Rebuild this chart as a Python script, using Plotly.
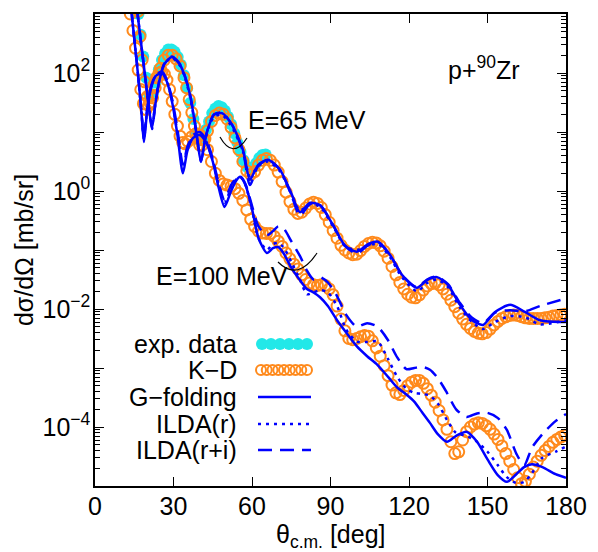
import numpy as np
import plotly.graph_objects as go

# ---------------- data (log10 of dsigma/dOmega [mb/sr]) ----------------
# experimental data, 65 MeV
theta_exp65 = [16.6, 17.4, 18.4, 19.6, 20.8, 22.0, 23.2, 24.4, 25.6, 26.8, 28.0, 29.2,
               30.4, 31.6, 32.8, 34.0, 35.2, 36.4, 37.6, 38.8, 40.0, 41.2, 42.4, 43.6,
               44.8, 46.0, 47.2, 48.4, 49.6, 50.8, 52.0, 53.2, 54.4, 55.6, 56.8, 58.0,
               59.2, 60.4, 61.6, 62.8, 64.0, 65.2]
exp65 = [3.00, 2.65, 2.28, 1.92, 1.62, 1.64, 1.84, 2.06, 2.22, 2.33, 2.40, 2.40,
         2.36, 2.27, 2.14, 1.96, 1.74, 1.49, 1.22, 0.98, 0.86, 0.90, 1.04, 1.18,
         1.32, 1.40, 1.44, 1.42, 1.36, 1.26, 1.13, 0.98, 0.82, 0.66, 0.52, 0.41,
         0.37, 0.40, 0.47, 0.56, 0.61, 0.62]

# K-D, 65 MeV
theta_kd65 = [16.5, 17.2, 18.0, 19.0, 20.0, 21.0, 22.0, 23.0, 24.0, 25.0,
              26.5, 28.0, 29.5, 31.0, 32.5, 34.0, 35.0, 36.0, 37.0, 38.0, 39.0, 40.0,
              41.0, 42.0, 43.0, 44.5, 46.0, 47.5, 49.0, 50.5, 52.0, 53.5, 55.0, 56.5,
              58.0, 59.5, 61.0, 62.5, 64.0, 65.5, 67.0, 68.5, 70.0, 71.5, 73.0, 74.5,
              76.0, 77.5, 79.0, 80.5, 82.0, 83.5, 85.0, 86.5, 88.0, 89.5, 91.0, 92.5,
              94.0, 95.5, 97.0, 98.5, 100.0, 101.5, 103.0, 104.5, 106.0, 107.5, 109.0,
              110.5, 112.0, 113.5, 115.0, 116.5, 118.0, 119.5, 121.0, 122.5, 124.0,
              125.5, 127.0, 128.5, 130.0, 131.5, 133.0, 134.5, 136.0, 137.5, 139.0,
              140.5, 142.0, 143.5, 145.0, 146.5, 148.0, 149.5, 151.0, 152.5, 154.0,
              155.5, 157.0, 158.5, 160.0, 161.5, 163.0, 164.5, 166.0, 167.5, 169.0,
              170.5, 172.0, 173.5, 175.0, 176.5, 178.0, 179.5]
kd65 = [3.05, 2.62, 2.22, 1.85, 1.60, 1.50, 1.58, 1.75, 1.93, 2.08,
        2.22, 2.30, 2.30, 2.24, 2.12, 1.92, 1.75, 1.55, 1.33, 1.10, 0.90, 0.78,
        0.78, 0.88, 1.02, 1.18, 1.28, 1.32, 1.30, 1.22, 1.08, 0.90, 0.70, 0.50,
        0.34, 0.28, 0.33, 0.44, 0.52, 0.55, 0.52, 0.44, 0.32, 0.16, -0.02, -0.18,
        -0.31, -0.38, -0.36, -0.29, -0.22, -0.19, -0.21, -0.28, -0.40, -0.53, -0.67, -0.80,
        -0.92, -1.00, -1.05, -1.08, -1.07, -1.01, -0.94, -0.89, -0.87, -0.88, -0.93,
        -1.02, -1.14, -1.28, -1.42, -1.55, -1.66, -1.75, -1.80, -1.81, -1.76,
        -1.68, -1.61, -1.57, -1.56, -1.59, -1.66, -1.75, -1.85, -1.96, -2.07,
        -2.17, -2.26, -2.33, -2.38, -2.41, -2.42, -2.40, -2.34, -2.27, -2.21,
        -2.16, -2.13, -2.11, -2.10, -2.11, -2.13, -2.15, -2.16, -2.16, -2.16,
        -2.16, -2.15, -2.14, -2.12, -2.11, -2.10, -2.09]

# K-D, 100 MeV
theta_kd100 = [13.5, 14.5, 15.5, 16.5, 17.5, 18.5, 19.5, 20.5, 21.5, 22.5, 23.5, 24.5,
               25.5, 26.5, 27.5, 28.5, 29.5, 30.5, 31.5, 32.5, 33.5, 34.5, 35.5, 37.0,
               38.5, 40.0, 41.5, 43.0, 44.5, 46.0, 47.5, 49.0, 50.5, 52.0, 53.5, 55.0,
               56.5, 58.0, 59.5, 61.0, 62.5, 64.0, 65.5, 67.0, 68.5, 70.0, 71.5, 73.0,
               74.5, 76.0, 77.5, 79.0, 80.5, 82.0, 83.5, 85.0, 86.5, 88.0, 89.5, 91.0,
               92.5, 94.0, 95.5, 97.0, 98.5, 100.0, 101.5, 103.0, 104.5, 106.0, 107.5,
               109.0, 110.5, 112.0, 113.5, 115.0, 116.5, 118.0, 119.5, 121.0, 122.5,
               124.0, 125.5, 127.0, 128.5, 130.0, 131.5, 133.0, 134.5, 136.0, 137.5,
               139.0, 140.5, 142.0, 143.5, 145.0, 146.5, 148.0, 149.5, 151.0, 152.5,
               154.0, 155.5, 157.0, 158.5, 160.0, 161.5, 163.0, 164.5, 166.0, 167.5,
               169.0, 170.5, 172.0, 173.5, 175.0, 176.5, 178.0, 179.5]
kd100 = [3.00, 2.72, 2.42, 2.05, 1.72, 1.48, 1.38, 1.45, 1.62, 1.80, 1.92, 2.00,
         2.02, 1.98, 1.88, 1.72, 1.52, 1.30, 1.10, 0.93, 0.82, 0.80, 0.84, 0.92,
         0.97, 0.95, 0.86, 0.70, 0.50, 0.30, 0.18, 0.12, 0.10, 0.08, 0.04, -0.04,
         -0.16, -0.32, -0.48, -0.60, -0.68, -0.71, -0.72, -0.72, -0.77, -0.85, -0.94, -1.05,
         -1.15, -1.24, -1.32, -1.42, -1.50, -1.56, -1.59, -1.60, -1.59, -1.60, -1.66, -1.76,
         -1.95, -2.17, -2.37, -2.50, -2.52, -2.50, -2.47, -2.45, -2.46, -2.54, -2.66,
         -2.80, -2.96, -3.13, -3.29, -3.42, -3.45, -3.38, -3.30, -3.24, -3.21,
         -3.21, -3.26, -3.35, -3.46, -3.58, -3.72, -3.88, -4.04, -4.25, -4.45,
         -4.42, -4.22, -4.08, -4.00, -3.95, -3.93, -3.94, -3.98, -4.04, -4.12,
         -4.21, -4.32, -4.45, -4.58, -4.72, -4.86, -4.96, -4.92, -4.80, -4.68,
         -4.58, -4.48, -4.40, -4.33, -4.26, -4.21, -4.17, -4.14]

# model curves, 65 MeV
theta_m65 = [16.0, 17.5, 19.0, 20.5, 21.8, 23.0, 24.5, 26.5, 29.4, 32.5, 34.5, 36.3,
             38.0, 39.3, 40.5, 42.0, 43.5, 45.5, 48.5, 52.4, 56.6, 59.2, 62.3, 66.1,
             70.7, 75.3, 78.3, 82.2, 86.0, 91.0, 95.5, 100.1, 104.3, 108.2, 112.7, 117.3,
             123.0, 126.9, 130.7, 134.9, 139.5, 144.1, 148.3, 152.9, 158.6, 164.3, 170.0, 180.0]
gfold65 = [3.10, 2.55, 2.00, 1.45, 1.07, 1.45, 1.85, 2.15, 2.27, 2.14, 1.92, 1.63,
           1.20, 0.80, 0.49, 0.85, 1.10, 1.29, 1.32, 1.12, 0.69, 0.19, 0.44, 0.53,
           0.36, -0.07, -0.36, -0.20, -0.24, -0.58, -0.92, -1.03, -0.90, -0.86, -1.08, -1.42,
           -1.64, -1.51, -1.46, -1.59, -1.93, -2.19, -2.27, -2.05, -1.93, -2.05, -2.19, -2.22]
ildar65 = [3.10, 2.55, 2.00, 1.47, 1.12, 1.47, 1.86, 2.15, 2.26, 2.12, 1.90, 1.60,
           1.18, 0.80, 0.55, 0.85, 1.08, 1.26, 1.29, 1.08, 0.66, 0.25, 0.42, 0.50,
           0.33, -0.08, -0.33, -0.22, -0.27, -0.60, -0.93, -1.00, -0.92, -0.90, -1.12, -1.46,
           -1.70, -1.56, -1.50, -1.63, -1.98, -2.22, -2.34, -2.22, -2.12, -2.14, -2.26, -2.19]
ildari65 = [3.10, 2.55, 2.00, 1.45, 1.05, 1.45, 1.85, 2.16, 2.28, 2.15, 1.93, 1.64,
            1.22, 0.82, 0.50, 0.86, 1.11, 1.30, 1.33, 1.12, 0.66, 0.10, 0.42, 0.53,
            0.36, -0.10, -0.42, -0.22, -0.24, -0.58, -0.93, -1.06, -0.92, -0.87, -1.08, -1.42,
            -1.63, -1.50, -1.45, -1.58, -1.90, -2.15, -2.24, -2.06, -2.02, -2.04, -1.95, -1.82]

# model curves, 100 MeV
theta_m100 = [13.8, 15.2, 16.6, 17.8, 18.7, 19.8, 21.2, 23.2, 25.6, 27.5, 29.5, 31.5,
              33.6, 35.3, 37.5, 40.0, 42.5, 45.0, 47.3, 49.5, 52.0, 54.0, 55.5, 57.5,
              60.0, 62.5, 65.7, 68.0, 70.0, 72.0, 75.0, 78.3, 81.0, 83.5, 86.0, 89.0,
              92.5, 96.0, 100.0, 104.0, 108.0, 112.0, 115.5, 119.0, 122.0, 125.0, 128.0,
              131.0, 134.5, 138.0, 142.0, 146.0, 150.0, 154.0, 157.4, 161.0, 164.0, 167.0,
              171.0, 176.0, 180.0]
gfold100 = [3.10, 2.50, 1.90, 1.30, 0.83, 1.30, 1.70, 1.95, 2.00, 1.85, 1.50, 0.95,
            0.30, 0.68, 0.90, 0.95, 0.82, 0.50, 0.05, -0.27, 0.00, 0.18, 0.24, 0.10,
            -0.30, -0.80, -1.05, -0.97, -0.95, -1.05, -1.30, -1.51, -1.66, -1.72, -1.80, -1.95,
            -2.19, -2.40, -2.63, -2.80, -2.95, -3.15, -3.33, -3.45, -3.57, -3.75, -3.93,
            -4.12, -4.25, -4.15, -4.08, -4.25, -4.55, -4.82, -4.93, -4.80, -4.68, -4.63,
            -4.68, -4.80, -4.86]
ildar100 = [3.10, 2.50, 1.90, 1.32, 0.88, 1.32, 1.72, 1.96, 2.01, 1.86, 1.52, 0.98,
            0.40, 0.72, 0.92, 0.97, 0.84, 0.52, 0.10, -0.20, 0.05, 0.20, 0.24, 0.10,
            -0.32, -0.80, -1.00, -0.90, -0.88, -0.95, -1.20, -1.50, -1.75, -1.72, -1.68, -1.72,
            -1.95, -2.35, -2.55, -2.56, -2.55, -2.85, -3.15, -3.35, -3.42, -3.44, -3.47,
            -3.60, -3.88, -4.10, -4.15, -4.25, -4.42, -4.65, -4.85, -4.95, -4.93, -4.78,
            -4.52, -4.42, -4.33]
ildari100 = [3.10, 2.50, 1.90, 1.32, 0.90, 1.35, 1.74, 1.97, 2.02, 1.88, 1.55, 1.05,
             0.45, 0.75, 0.95, 1.00, 0.87, 0.55, 0.12, -0.15, 0.10, 0.22, 0.25, 0.12,
             -0.25, -0.60, -0.75, -0.68, -0.60, -0.63, -0.85, -1.10, -1.35, -1.50, -1.46, -1.55,
             -1.78, -2.10, -2.30, -2.24, -2.30, -2.53, -2.82, -3.02, -3.00, -2.98, -3.03,
             -3.17, -3.42, -3.70, -3.83, -3.77, -3.76, -3.85, -4.05, -4.45, -4.65, -4.35,
             -4.12, -3.90, -3.78]

x_ticks = [0, 30, 60, 90, 120, 150, 180]
y_decades = list(range(-5, 4))
y_labels = {-4: "10<sup>\u22124</sup>", -2: "10<sup>\u22122</sup>", 0: "10<sup>0</sup>", 2: "10<sup>2</sup>"}
legend_names = ["exp. data", "K\u2212D", "G\u2212folding", "ILDA(r)", "ILDA(r+i)"]
x_title = "\u03b8<sub>c.m.</sub> [deg]"
y_title = "d\u03c3/d\u03a9 [mb/sr]"

# ---------------- styles ----------------
CYAN = "#22e8e8"
ORANGE = "#ff8a1c"
BLUE = "#0000ff"
FONT = "Liberation Sans, Arial, Helvetica, sans-serif"
FS = 25
DOT = "3px,5px"
DASH = "14px,8px"

# the page body has an 8px margin: figure pixel = window pixel - 8
OFF = 8
W, H = 598 - OFF, 552 - OFF
PL, PR, PT, PB = 95 - OFF, 566 - OFF, 14 - OFF, 486 - OFF


def lin(v):
    return [10.0 ** a for a in v]


def px2x(p):
    return (p - OFF - PL) / (PR - PL)


def py2y(p):
    return (PB - (p - OFF)) / (PB - PT)


fig = go.Figure()

fig.add_trace(go.Scatter(x=theta_exp65, y=lin(exp65), mode="markers",
                         marker=dict(symbol="circle", size=12, color=CYAN)))
for th, vals in ((theta_kd65, kd65), (theta_kd100, kd100)):
    fig.add_trace(go.Scatter(x=th, y=lin(vals), mode="markers",
                             marker=dict(symbol="circle-open", size=11, color=ORANGE,
                                         line=dict(width=2, color=ORANGE))))
for th, vals, dash in ((theta_m65, gfold65, "solid"), (theta_m65, ildar65, DOT),
                       (theta_m65, ildari65, DASH), (theta_m100, gfold100, "solid"),
                       (theta_m100, ildar100, DOT), (theta_m100, ildari100, DASH)):
    fig.add_trace(go.Scatter(x=th, y=lin(vals), mode="lines",
                             line=dict(color=BLUE, width=2.5, dash=dash,
                                       shape="spline", smoothing=0.7)))

# ---------------- legend (drawn manually, text left of keys) ----------------
rows_py = [344, 370, 397, 424, 450]
key_x0, key_x1 = px2x(258), px2x(311)
fig.add_trace(go.Scatter(x=list(np.linspace(px2x(262), px2x(307), 6)), y=[py2y(rows_py[0])] * 6,
                         mode="markers", xaxis="x2", yaxis="y2",
                         marker=dict(symbol="circle", size=12, color=CYAN)))
fig.add_trace(go.Scatter(x=list(np.linspace(px2x(261), px2x(307), 9)), y=[py2y(rows_py[1])] * 9,
                         mode="markers", xaxis="x2", yaxis="y2",
                         marker=dict(symbol="circle-open", size=10, color=ORANGE,
                                     line=dict(width=2, color=ORANGE))))
for r, dash in zip(rows_py[2:], ["solid", DOT, DASH]):
    fig.add_trace(go.Scatter(x=[key_x0, key_x1], y=[py2y(r)] * 2, mode="lines",
                             xaxis="x2", yaxis="y2",
                             line=dict(color=BLUE, width=2.5, dash=dash)))

annotations = []
for name, r in zip(legend_names, rows_py):
    annotations.append(dict(x=px2x(239), y=py2y(r), xref="paper", yref="paper",
                            text=name, showarrow=False, xanchor="right", yanchor="middle",
                            font=dict(size=FS, family=FONT, color="black")))
annotations += [
    dict(x=px2x(446), y=py2y(68), xref="paper", yref="paper", text="p+<sup>90</sup>Zr",
         showarrow=False, xanchor="left", yanchor="middle", font=dict(size=FS, family=FONT)),
    dict(x=px2x(246), y=py2y(120), xref="paper", yref="paper", text="E=65 MeV",
         showarrow=False, xanchor="left", yanchor="middle", font=dict(size=FS, family=FONT)),
    dict(x=px2x(154), y=py2y(276), xref="paper", yref="paper", text="E=100 MeV",
         showarrow=False, xanchor="left", yanchor="middle", font=dict(size=FS, family=FONT)),
    dict(x=px2x(331), y=py2y(536), xref="paper", yref="paper", text=x_title,
         showarrow=False, xanchor="center", yanchor="middle", font=dict(size=FS, family=FONT)),
]


def arc(p0, c, p1):
    return "M {} {} Q {} {} {} {}".format(px2x(p0[0]), py2y(p0[1]), px2x(c[0]), py2y(c[1]),
                                          px2x(p1[0]), py2y(p1[1]))


shapes = [
    dict(type="path", xref="paper", yref="paper", path=arc((220, 137), (233, 160), (247, 138)),
         line=dict(color="black", width=1.2)),
    dict(type="path", xref="paper", yref="paper", path=arc((278, 262), (298, 282), (317, 253)),
         line=dict(color="black", width=1.2)),
]

minor_vals = [k * 10.0 ** n for n in range(-5, 3) for k in range(2, 10)]

fig.update_layout(
    width=W, height=H,
    margin=dict(l=PL, r=W - PR, t=PT, b=H - PB),
    paper_bgcolor="white", plot_bgcolor="white",
    showlegend=False,
    font=dict(family=FONT, size=FS, color="black"),
    annotations=annotations, shapes=shapes,
    xaxis=dict(range=[0, 180], tickvals=x_ticks, ticks="inside", ticklen=9, tickwidth=1.3,
               tickcolor="black", mirror="allticks", showline=True, linecolor="black",
               linewidth=1.5, showgrid=False, zeroline=False, automargin=False,
               ticklabelstandoff=-3,
               tickfont=dict(size=FS, family=FONT)),
    yaxis=dict(type="log", range=[-5, 3], tickvals=[10.0 ** n for n in y_decades],
               ticktext=[y_labels.get(n, "") for n in y_decades],
               ticks="inside", ticklen=9, tickwidth=1.3, tickcolor="black",
               minor=dict(tickvals=minor_vals, ticks="inside", ticklen=5, tickwidth=1,
                          tickcolor="black", showgrid=False),
               mirror="allticks", showline=True, linecolor="black", linewidth=1.5,
               showgrid=False, zeroline=False, automargin=False,
               ticklabelstandoff=-2,
               tickfont=dict(size=FS, family=FONT),
               title=dict(text=y_title, standoff=2,
                          font=dict(size=FS, family=FONT))),
    xaxis2=dict(overlaying="x", range=[0, 1], visible=False),
    yaxis2=dict(overlaying="y", range=[0, 1], visible=False),
)

fig.write_html("out.html")
